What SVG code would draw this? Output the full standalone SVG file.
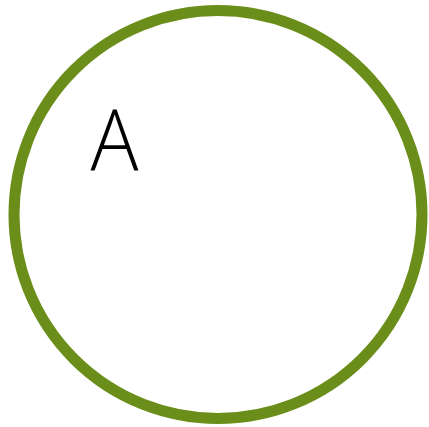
<svg xmlns="http://www.w3.org/2000/svg" width="429" height="427" viewBox="0 0 429 427">
<style>
.ring{fill:#ffffff;stroke:#6b8e1a;stroke-width:11}
.lbl{font-family:"Open Sans","Noto Sans",sans-serif;font-weight:300;font-size:84px;fill:#000000}
</style>
<rect width="429" height="427" fill="#ffffff"/>
<g id="setA">
<circle class="ring" cx="218" cy="214.5" r="204"/>
<text class="lbl" x="90.5" y="170" textLength="48" lengthAdjust="spacingAndGlyphs">A</text>
</g>
</svg>
